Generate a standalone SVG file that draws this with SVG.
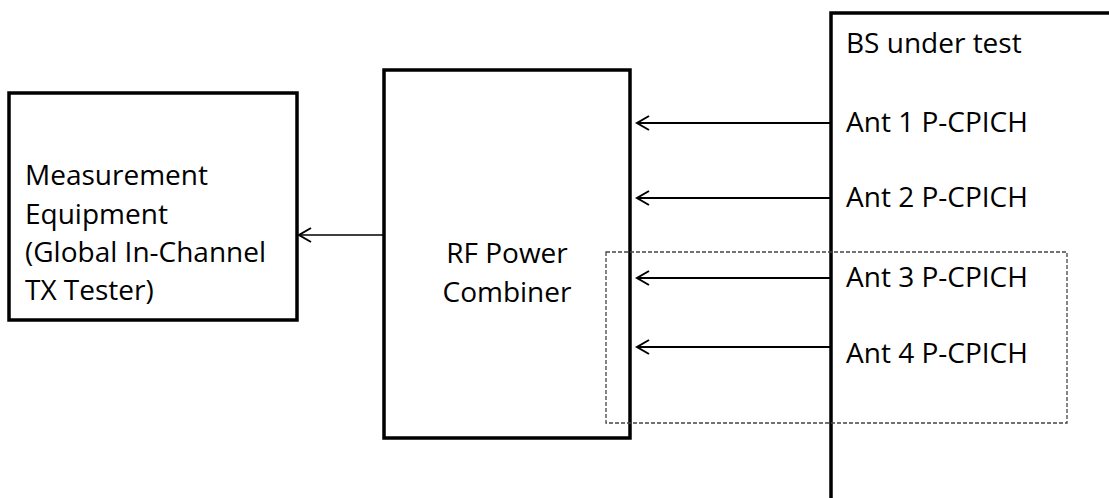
<svg xmlns="http://www.w3.org/2000/svg" width="1109" height="498" viewBox="0 0 1109 498">
<style>
.box{fill:#fff;stroke:#000;stroke-width:3.5}
.t{font-family:"Open Sans","Liberation Sans",sans-serif;font-size:28px;fill:#000}
.conn{stroke:#000;fill:none}
.dash{fill:none;stroke:#444;stroke-width:1.3;stroke-dasharray:4 2}
</style>
<defs>
<marker id="arr" markerUnits="userSpaceOnUse" viewBox="-15 -10 17 20" refX="0" refY="0" markerWidth="17" markerHeight="20" orient="auto">
<path d="M-12,-7 L0,0 L-12,7" fill="none" stroke="#000" stroke-width="2"/>
</marker>
</defs>
<rect width="1109" height="498" fill="#fff"/>
<g id="bs">
<path d="M831,498 L831,13 L1109,13" class="conn" stroke-width="3.5"/>
<text class="t" x="846" y="53">BS under test</text>
<text class="t" x="846" y="132">Ant 1 P-CPICH</text>
<text class="t" x="846" y="207">Ant 2 P-CPICH</text>
<text class="t" x="846" y="287">Ant 3 P-CPICH</text>
<text class="t" x="846" y="363">Ant 4 P-CPICH</text>
</g>
<g id="meas">
<rect class="box" x="9" y="93" width="288" height="227"/>
<text class="t" x="25" y="185">Measurement</text>
<text class="t" x="25" y="224">Equipment</text>
<text class="t" x="25" y="262">(Global In-Channel</text>
<text class="t" x="25" y="300">TX Tester)</text>
</g>
<g id="rf">
<rect class="box" x="384" y="70" width="246" height="368"/>
<text class="t" x="507" y="263" text-anchor="middle">RF Power</text>
<text class="t" x="507" y="302" text-anchor="middle">Combiner</text>
</g>
<g id="group4">
<rect class="dash" x="606" y="252" width="461" height="171"/>
</g>
<g id="connectors">
<line class="conn" x1="384" y1="235" x2="299" y2="235" stroke-width="1.5" marker-end="url(#arr)"/>
<line class="conn" x1="830" y1="123" x2="637" y2="123" stroke-width="2.2" marker-end="url(#arr)"/>
<line class="conn" x1="830" y1="198" x2="637" y2="198" stroke-width="2.2" marker-end="url(#arr)"/>
<line class="conn" x1="830" y1="278" x2="637" y2="278" stroke-width="2.2" marker-end="url(#arr)"/>
<line class="conn" x1="830" y1="347" x2="637" y2="347" stroke-width="2.2" marker-end="url(#arr)"/>
</g>
</svg>
